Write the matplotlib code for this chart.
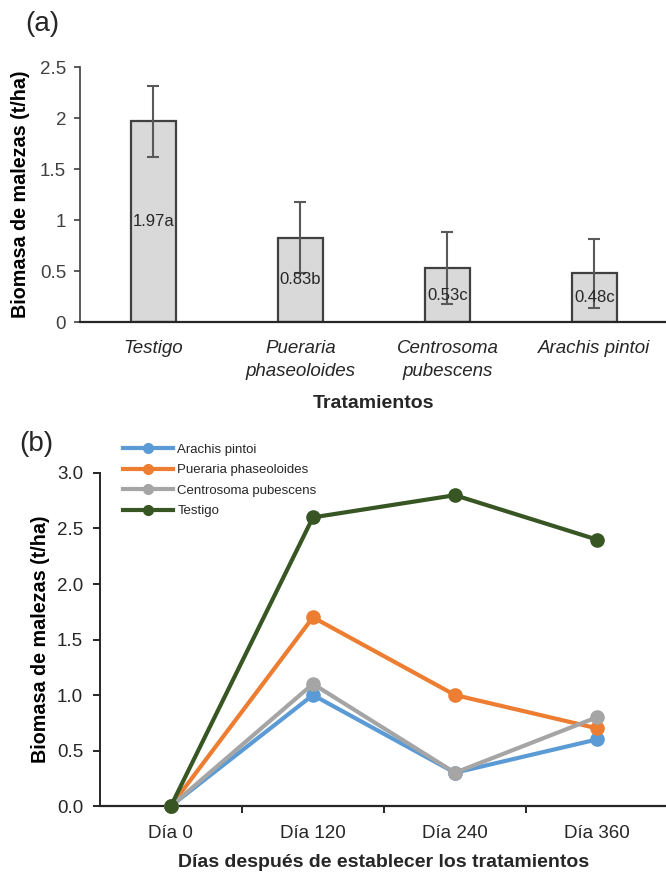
import matplotlib
matplotlib.use("Agg")
import matplotlib.pyplot as plt
import numpy as np

plt.rcParams['font.family'] = ['Liberation Sans', 'DejaVu Sans']

# Panel (a) data
treatments = ["Testigo", "Pueraria\nphaseoloides", "Centrosoma\npubescens", "Arachis pintoi"]
biomass = [1.97, 0.83, 0.53, 0.48]
errors = [0.35, 0.35, 0.35, 0.34]
bar_labels = ["1.97a", "0.83b", "0.53c", "0.48c"]

# Panel (b) data
days = ["Día 0", "Día 120", "Día 240", "Día 360"]
arachis = [0.0, 1.0, 0.3, 0.6]
pueraria = [0.0, 1.7, 1.0, 0.7]
centrosoma = [0.0, 1.1, 0.3, 0.8]
testigo = [0.0, 2.6, 2.8, 2.4]

TXT = "#262626"
TICK = "#404040"
FS = 13.5

fig = plt.figure(figsize=(6.66, 8.73), dpi=100)

# ---------- Panel (a) ----------
ax1 = fig.add_axes([0.120, 0.631, 0.883, 0.292])
x = np.arange(len(treatments))
ax1.bar(x, biomass, width=0.31, color="#D9D9D9", edgecolor="#404040", linewidth=1.6, zorder=2)
ax1.errorbar(x, biomass, yerr=errors, fmt="none", ecolor="#595959", elinewidth=1.5,
             capsize=4.3, capthick=1.5, zorder=3)
for xi, v, lab in zip(x, biomass, bar_labels):
    ax1.text(xi, v / 2, lab, ha="center", va="center", fontsize=12, color=TXT, zorder=4)
ax1.set_xlim(-0.5, 3.5)
ax1.set_ylim(0, 2.5)
ax1.set_yticks([0, 0.5, 1, 1.5, 2, 2.5])
ax1.set_yticklabels(["0", "0.5", "1", "1.5", "2", "2.5"])
ax1.set_xticks(x)
ax1.set_xticklabels(treatments, fontstyle="italic", fontsize=FS, color=TXT, linespacing=1.45)
ax1.tick_params(axis="x", length=0, pad=13)
ax1.tick_params(axis="y", labelsize=FS, labelcolor=TICK, length=4, width=1.2,
                direction="out", color="#404040", pad=6)
for s in ["top", "right"]:
    ax1.spines[s].set_visible(False)
ax1.spines["left"].set_color("#404040")
ax1.spines["left"].set_linewidth(1.2)
ax1.spines["bottom"].set_color(TXT)
ax1.spines["bottom"].set_linewidth(1.6)
ax1.set_ylabel("Biomasa de malezas (t/ha)", fontsize=14.2, fontweight="bold", labelpad=7, color="black")
ax1.set_xlabel("Tratamientos", fontsize=14, fontweight="bold", labelpad=11, color=TXT)
fig.text(0.063, 0.973, "(a)", fontsize=20, va="center", ha="center", color=TXT)

# ---------- Panel (b) ----------
ax2 = fig.add_axes([0.150, 0.0767, 0.853, 0.3815])
xd = np.arange(len(days))
series = [("Arachis pintoi", arachis, "#5B9BD5"),
          ("Pueraria phaseoloides", pueraria, "#ED7D31"),
          ("Centrosoma pubescens", centrosoma, "#A5A5A5"),
          ("Testigo", testigo, "#375623")]
for name, vals, col in series:
    ax2.plot(xd, vals, color=col, linewidth=3.0, marker="o", markersize=9.5, label=name,
             clip_on=False, zorder=3)
ax2.set_xlim(-0.5, 3.5)
ax2.set_ylim(0, 3.0)
ax2.set_yticks(np.arange(0, 3.01, 0.5))
ax2.set_yticklabels([f"{v:.1f}" for v in np.arange(0, 3.01, 0.5)])
ax2.set_xticks(xd)
ax2.set_xticklabels(days, fontsize=FS, color=TXT)
ax2.set_xticks([0.5, 1.5, 2.5], minor=True)
ax2.tick_params(axis="x", which="major", length=0, pad=14)
ax2.tick_params(axis="x", which="minor", length=5, direction="out", width=1.4, color=TXT)
ax2.tick_params(axis="y", labelsize=FS, labelcolor=TXT, length=5, width=1.4,
                direction="out", color=TXT, pad=7)
for s in ["top", "right"]:
    ax2.spines[s].set_visible(False)
ax2.spines["left"].set_color(TXT)
ax2.spines["left"].set_linewidth(1.4)
ax2.spines["bottom"].set_color(TXT)
ax2.spines["bottom"].set_linewidth(1.6)
ax2.set_ylabel("Biomasa de malezas (t/ha)", fontsize=14.2, fontweight="bold", labelpad=5, color="black")
ax2.set_xlabel("Días después de establecer los tratamientos", fontsize=14, fontweight="bold",
               labelpad=8, color=TXT)
leg = ax2.legend(loc="upper left", bbox_to_anchor=(0.032, 1.104), frameon=False, fontsize=9.5,
                 handlelength=3.8, handletextpad=0.3, labelspacing=0.62, borderaxespad=0)
for t in leg.get_texts():
    t.set_color(TXT)
for h in leg.get_lines():
    h.set_markersize(7)
    h.set_linewidth(3.0)
fig.text(0.054, 0.491, "(b)", fontsize=20, va="center", ha="center", color=TXT)

fig.savefig("out.png", dpi=100)
